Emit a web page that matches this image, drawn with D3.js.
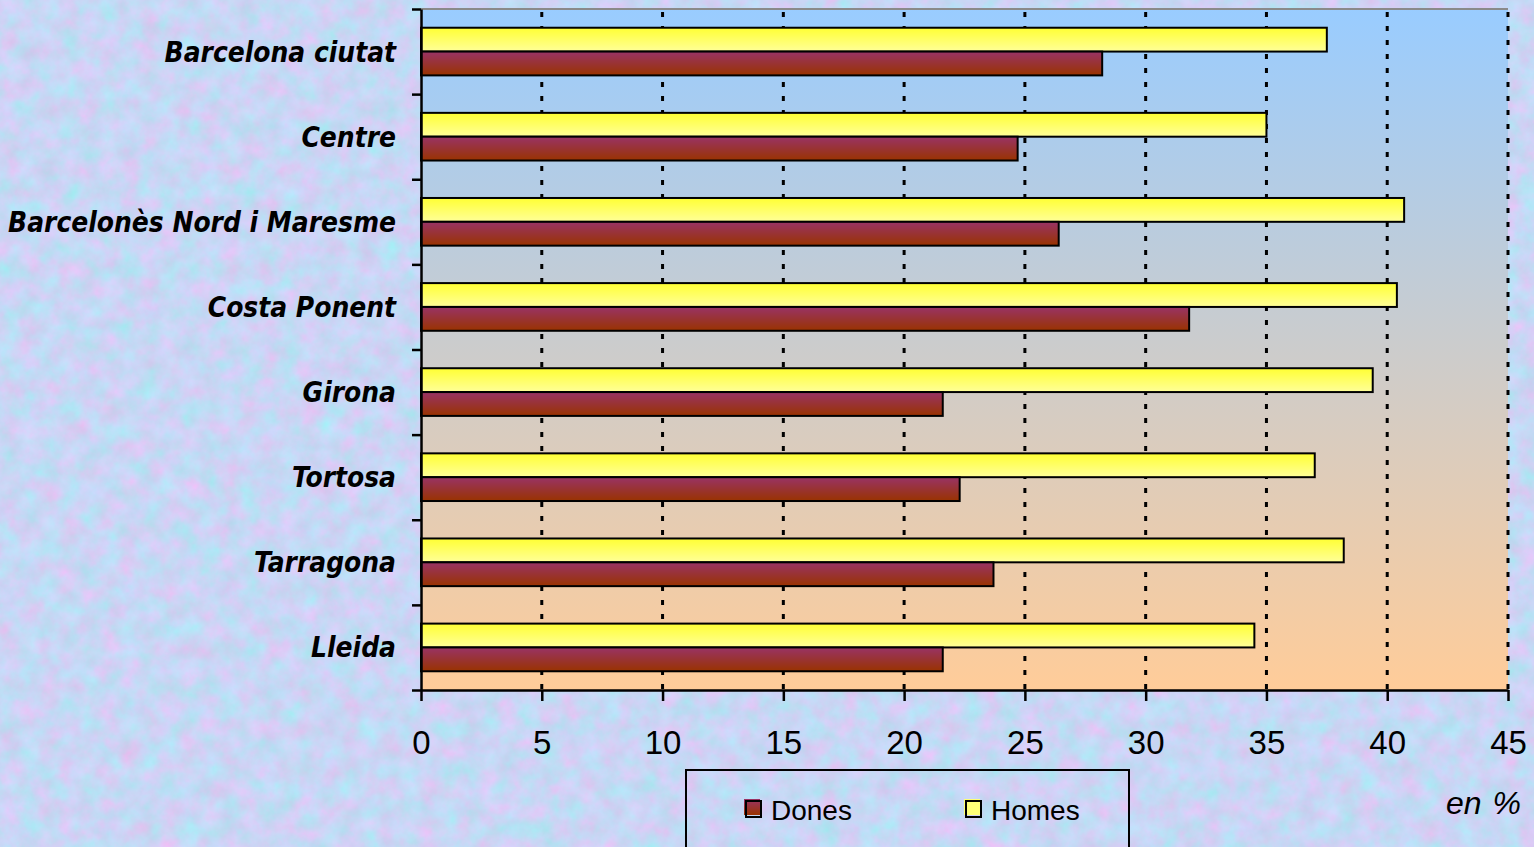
<!DOCTYPE html>
<html>
<head>
<meta charset="utf-8">
<script src="https://cdn.jsdelivr.net/npm/d3@7/dist/d3.min.js"></script>
<style>
body { margin: 0; overflow: hidden; background: #c9d5f2; }
text.cat { font-family: "DejaVu Sans Condensed", "DejaVu Sans", sans-serif; font-weight: bold; font-style: italic; fill: #000; }
text.tick { font-family: "Liberation Sans", Arial, sans-serif; fill: #000; }
</style>
</head>
<body>
<script>
// data (percentages)
var categories = ['Barcelona ciutat', 'Centre', 'Barcelonès Nord i Maresme', 'Costa Ponent',
	'Girona', 'Tortosa', 'Tarragona', 'Lleida'];
var homesValues = [37.5, 35.0, 40.7, 40.4, 39.4, 37.0, 38.2, 34.5];
var donesValues = [28.2, 24.7, 26.4, 31.8, 21.6, 22.3, 23.7, 21.6];
var xTickValues = [0, 5, 10, 15, 20, 25, 30, 35, 40, 45];
var seriesNames = ['Dones', 'Homes'];
var unitLabel = 'en %';

var width = 1534;
var height = 847;
var plot = { left: 421, right: 1508, top: 9, bottom: 690 };

var svg = d3.select('body').append('svg')
	.attr('width', width)
	.attr('height', height);

var defs = svg.append('defs');

// mottled paper background
var filter = defs.append('filter')
	.attr('id', 'paper')
	.attr('x', 0).attr('y', 0).attr('width', '100%').attr('height', '100%')
	.attr('color-interpolation-filters', 'sRGB');
filter.append('feTurbulence')
	.attr('type', 'fractalNoise')
	.attr('baseFrequency', 0.05)
	.attr('numOctaves', 4)
	.attr('seed', 7);
filter.append('feColorMatrix')
	.attr('type', 'matrix')
	.attr('values',
		'0.2 -0.2 0.05 0 0.76 ' +
		'-0.1 0.15 0.05 0 0.79 ' +
		'0 0 0.08 0 0.92 ' +
		'0 0 0 0 1');

var plotGrad = defs.append('linearGradient')
	.attr('id', 'plotGrad')
	.attr('x1', 0).attr('y1', 0).attr('x2', 0).attr('y2', 1);
plotGrad.append('stop').attr('offset', '0%').attr('stop-color', '#99ccff');
plotGrad.append('stop').attr('offset', '100%').attr('stop-color', '#ffcc99');

function barGradient(id, top, bottom) {
	var g = defs.append('linearGradient')
		.attr('id', id)
		.attr('x1', 0).attr('y1', 0).attr('x2', 0).attr('y2', 1);
	g.append('stop').attr('offset', '0%').attr('stop-color', top);
	g.append('stop').attr('offset', '100%').attr('stop-color', bottom);
}
barGradient('homesGrad', '#ffff33', '#ffff99');
barGradient('donesGrad', '#993366', '#993300');

svg.append('rect')
	.attr('width', width)
	.attr('height', height)
	.attr('filter', 'url(#paper)');

// scales
var x = d3.scaleLinear().domain([0, 45]).range([plot.left, plot.right]);
var y = d3.scaleBand().domain(categories).range([plot.top, plot.bottom]);
var yEdges = d3.scaleLinear().domain([0, categories.length]).range([plot.top, plot.bottom]);
var barH = y.bandwidth() * 0.28;

// plot area
svg.append('rect')
	.attr('x', plot.left)
	.attr('y', plot.top)
	.attr('width', plot.right - plot.left)
	.attr('height', plot.bottom - plot.top)
	.attr('fill', 'url(#plotGrad)');

svg.append('line')
	.attr('x1', plot.left).attr('x2', plot.right)
	.attr('y1', plot.top).attr('y2', plot.top)
	.attr('stroke', '#8a8a8a')
	.attr('stroke-width', 2);

// dotted grid
svg.append('g')
	.selectAll('line')
	.data(xTickValues.slice(1))
	.enter()
		.append('line')
		.attr('x1', function(d) { return x(d); })
		.attr('x2', function(d) { return x(d); })
		.attr('y1', plot.top + 3)
		.attr('y2', plot.bottom)
		.attr('stroke', '#000')
		.attr('stroke-width', 3)
		.attr('stroke-dasharray', '5,9');

// bars
var groups = svg.append('g')
	.selectAll('g')
	.data(categories)
	.enter()
		.append('g')
		.attr('transform', function(d) { return 'translate(0,' + (y(d) + y.bandwidth() / 2) + ')'; });

groups.append('rect')
	.attr('x', x(0))
	.attr('y', -barH)
	.attr('width', function(d, i) { return x(homesValues[i]) - x(0); })
	.attr('height', barH)
	.attr('fill', 'url(#homesGrad)')
	.attr('stroke', '#000')
	.attr('stroke-width', 2);

groups.append('rect')
	.attr('x', x(0))
	.attr('y', 0)
	.attr('width', function(d, i) { return x(donesValues[i]) - x(0); })
	.attr('height', barH)
	.attr('fill', 'url(#donesGrad)')
	.attr('stroke', '#000')
	.attr('stroke-width', 2);

// category labels
var labels = groups.append('text')
	.attr('class', 'cat')
	.attr('x', 396)
	.attr('dy', '0.36em')
	.attr('text-anchor', 'end')
	.style('font-size', '26px')
	.text(function(d) { return d; });

var longest = d3.max(labels.nodes(), function(n) { return n.getComputedTextLength(); });
labels.style('font-size', (26 * 388 / longest) + 'px');

// axes
var yAxis = svg.append('g')
	.attr('transform', 'translate(' + plot.left + ',0)')
	.call(d3.axisLeft(yEdges)
		.tickValues(d3.range(categories.length + 1))
		.tickSize(9)
		.tickSizeOuter(0)
		.tickFormat(''));

var xAxis = svg.append('g')
	.attr('transform', 'translate(0,' + plot.bottom + ')')
	.call(d3.axisBottom(x)
		.tickValues(xTickValues)
		.tickSize(11)
		.tickSizeOuter(0)
		.tickPadding(30));

[yAxis, xAxis].forEach(function(a) {
	a.selectAll('path.domain').attr('stroke', '#000').attr('stroke-width', 2.5);
	a.selectAll('.tick line').attr('stroke', '#000').attr('stroke-width', 2.5);
});

xAxis.selectAll('.tick text')
	.attr('class', 'tick')
	.attr('fill', '#000')
	.style('font-size', '33px')
	.style('font-family', '"Liberation Sans", Arial, sans-serif');

// legend
var legend = svg.append('g');
legend.append('rect')
	.attr('x', 686)
	.attr('y', 770)
	.attr('width', 443)
	.attr('height', 120)
	.attr('fill', 'none')
	.attr('stroke', '#000')
	.attr('stroke-width', 2);

var legendX = d3.scalePoint().domain(seriesNames).range([744, 964]);
var legendFill = { Dones: 'url(#donesGrad)', Homes: '#ffff77' };

var items = legend.selectAll('g.item')
	.data(seriesNames)
	.enter()
		.append('g')
		.attr('class', 'item')
		.attr('transform', function(d) { return 'translate(' + legendX(d) + ',799)'; });

items.append('rect')
	.attr('width', 16).attr('height', 16)
	.attr('fill', function(d) { return legendFill[d]; });
items.append('rect')
	.attr('x', 2).attr('y', 2)
	.attr('width', 15).attr('height', 16)
	.attr('fill', 'none')
	.attr('stroke', '#000')
	.attr('stroke-width', 2);
items.append('text')
	.attr('class', 'tick')
	.attr('x', 27)
	.attr('y', 21)
	.style('font-size', '28px')
	.text(function(d) { return d; });

svg.append('text')
	.attr('class', 'tick')
	.attr('x', 1521)
	.attr('y', 814)
	.attr('text-anchor', 'end')
	.style('font-size', '32px')
	.style('font-style', 'italic')
	.style('word-spacing', '2px')
	.text(unitLabel);
</script>
</body>
</html>
